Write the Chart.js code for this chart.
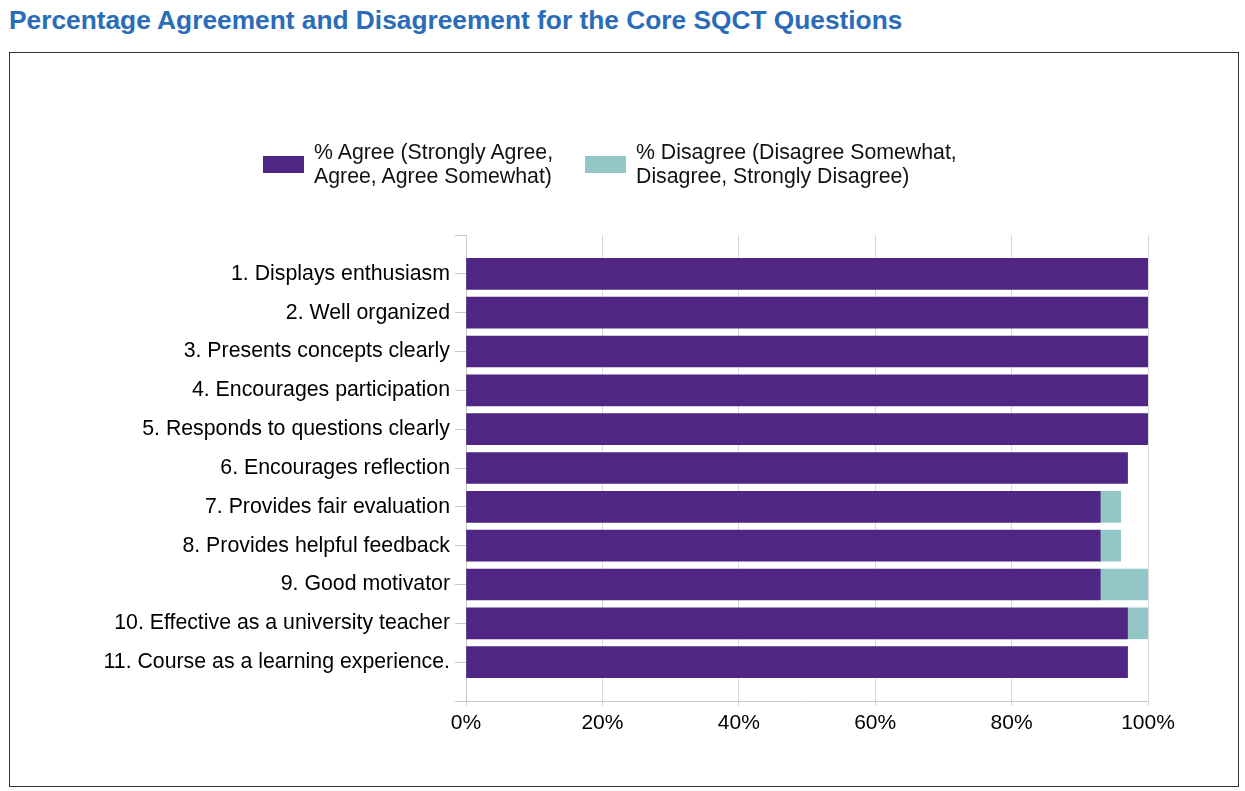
<!DOCTYPE html>
<html>
<head>
<meta charset="utf-8">
<script src="https://cdn.jsdelivr.net/npm/chart.js@4.4.0/dist/chart.umd.min.js"></script>
<style>
    body { margin: 0; background: #fff; font-family: "Liberation Sans", Arial, sans-serif; }
    h1 { position: absolute; left: 9px; top: 5px; margin: 0; font-size: 26.3px; font-weight: bold; color: #2b6cb8; }
    #box { position: absolute; left: 9px; top: 52px; width: 1228px; height: 733px; border: 1px solid #333; }
    #wrap { position: absolute; left: 0; top: 0; width: 1228px; height: 733px; }
    .leg { position: absolute; top: 87px; font-size: 21.3px; line-height: 24px; color: #111; white-space: nowrap; }
    .leg span { position: absolute; width: 41px; height: 17px; }
</style>
</head>
<body>
<h1>Percentage Agreement and Disagreement for the Core SQCT Questions</h1>
<div id="box">
    <div id="wrap"><canvas id="chart"></canvas></div>
    <div id="legend"></div>
</div>
<script>
const questions = [
    '1. Displays enthusiasm',
    '2. Well organized',
    '3. Presents concepts clearly',
    '4. Encourages participation',
    '5. Responds to questions clearly',
    '6. Encourages reflection',
    '7. Provides fair evaluation',
    '8. Provides helpful feedback',
    '9. Good motivator',
    '10. Effective as a university teacher',
    '11. Course as a learning experience.'
];
const agree = [100, 100, 100, 100, 100, 97, 93, 93, 93, 97, 97];
const disagree = [0, 0, 0, 0, 0, 0, 3, 3, 7, 3, 0];
const agreeLabel = ['% Agree (Strongly Agree,', 'Agree, Agree Somewhat)'];
const disagreeLabel = ['% Disagree (Disagree Somewhat,', 'Disagree, Strongly Disagree)'];
const xTicks = [0, 20, 40, 60, 80, 100];

const purple = '#4f2683';
const teal = '#93c6c6';

document.addEventListener('DOMContentLoaded', () => {
    // legend built by hand so the two-line labels sit like the original
    const legend = document.getElementById('legend');
    const items = [
        { label: agreeLabel, color: purple, left: 253 },
        { label: disagreeLabel, color: teal, left: 575 }
    ];
    items.forEach(item => {
        const div = document.createElement('div');
        div.className = 'leg';
        div.style.left = (item.left + 51) + 'px';
        div.innerHTML = `<span style="left:-51px;top:16px;background:${item.color}"></span>${item.label.join('<br>')}`;
        legend.appendChild(div);
    });

    const ctx = document.getElementById('chart').getContext('2d');
    new Chart(ctx, {
        type: 'bar',
        data: {
            datasets: [{
                label: agreeLabel.join(' '),
                data: agree.map((v, i) => ({ x: v, y: i })),
                backgroundColor: purple,
                barThickness: 31
            }, {
                label: disagreeLabel.join(' '),
                data: disagree.map((v, i) => ({ x: v, y: i })),
                backgroundColor: teal,
                barThickness: 31
            }]
        },
        options: {
            indexAxis: 'y',
            responsive: true,
            maintainAspectRatio: false,
            animation: false,
            layout: { padding: { top: 182, right: 90, left: 0, bottom: 0 } },
            plugins: {
                legend: { display: false },
                tooltip: { enabled: false }
            },
            scales: {
                x: {
                    type: 'linear',
                    stacked: true,
                    min: 0,
                    max: 100,
                    afterBuildTicks: scale => { scale.ticks = xTicks.map(v => ({ value: v })); },
                    ticks: {
                        callback: v => v + '%',
                        color: '#000',
                        font: { family: 'Liberation Sans', size: 21 },
                        padding: 5,
                        maxRotation: 0
                    },
                    grid: { color: '#d9d9d9', tickLength: 5 },
                    border: { color: '#c8c8c8' },
                    afterFit: scale => { scale.height = 85; }
                },
                y: {
                    type: 'linear',
                    stacked: true,
                    reverse: true,
                    offset: false,
                    min: -1,
                    max: 11,
                    afterBuildTicks: scale => {
                        scale.ticks = [];
                        for (let i = -1; i <= 11; i++) scale.ticks.push({ value: i });
                    },
                    ticks: {
                        autoSkip: false,
                        callback: v => questions[v] || '',
                        color: '#000',
                        font: { family: 'Liberation Sans', size: 21.3 },
                        padding: 5
                    },
                    grid: { drawOnChartArea: false, offset: false, color: '#c8c8c8', tickLength: 11 },
                    border: { color: '#c8c8c8' },
                    afterFit: scale => { scale.width = 456; }
                }
            }
        }
    });
});
</script>
</body>
</html>
